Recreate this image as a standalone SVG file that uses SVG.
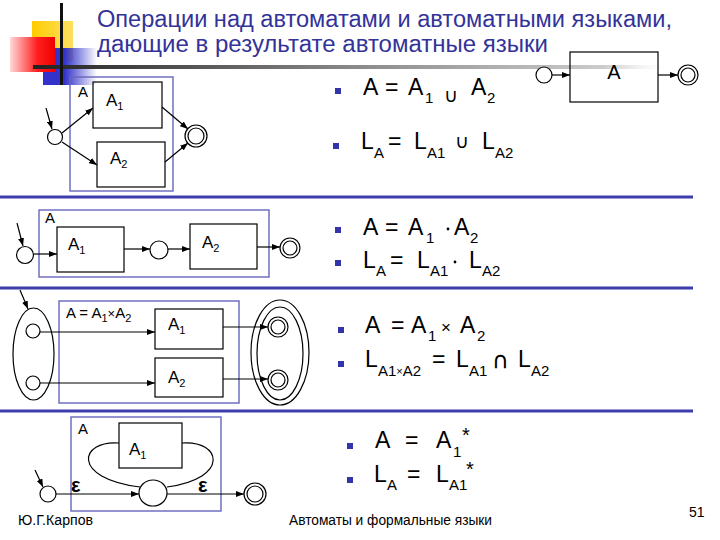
<svg xmlns="http://www.w3.org/2000/svg" width="720" height="540" viewBox="0 0 720 540">
<style>
.t{font-family:"Liberation Sans","DejaVu Sans",sans-serif;fill:#000}
.title{font-family:"Liberation Sans","DejaVu Sans",sans-serif;fill:#333399;font-size:23px}
.f{font-size:23px}
.s{font-size:15px}
.lb{font-size:17px}
.ls{font-size:11px}
.op{font-family:"DejaVu Sans",sans-serif}
.star{font-size:20px}
.box{fill:none;stroke:#000;stroke-width:1.2}
.abox{fill:none;stroke:#6666bb;stroke-width:1.4}
.st{fill:#fff;stroke:#000;stroke-width:1.2}
.e{fill:none;stroke:#000;stroke-width:1.2}
.sep{stroke:#3c3caa;stroke-width:3}
.bul{fill:#3333aa}
.eps{font-family:"Liberation Sans","DejaVu Sans",sans-serif;font-weight:bold;font-size:20px}
</style>
<defs>
<marker id="ah" markerWidth="8" markerHeight="6" refX="8" refY="3" orient="auto" markerUnits="userSpaceOnUse">
<path d="M0,0 L8,3 L0,6 z" fill="#000"/>
</marker>
<linearGradient id="gRed" x1="0" y1="0" x2="1" y2="0">
<stop offset="0" stop-color="#ffd8d8"/>
<stop offset="0.6" stop-color="#ff2020"/>
<stop offset="1" stop-color="#ee0000"/>
</linearGradient>
<linearGradient id="gBlue" x1="0" y1="0" x2="1" y2="0">
<stop offset="0" stop-color="#3333cc"/>
<stop offset="0.4" stop-color="#3333cc"/>
<stop offset="1" stop-color="#3333cc" stop-opacity="0"/>
</linearGradient>
<linearGradient id="gYel" x1="0" y1="0" x2="1" y2="0">
<stop offset="0" stop-color="#ffcc00"/>
<stop offset="1" stop-color="#ffe060"/>
</linearGradient>
<linearGradient id="gLine" x1="0" y1="0" x2="1" y2="0">
<stop offset="0" stop-color="#222"/>
<stop offset="0.5" stop-color="#888"/>
<stop offset="0.9" stop-color="#ccc"/>
<stop offset="1" stop-color="#eee" stop-opacity="0"/>
</linearGradient>
</defs>

<g id="decor">
<rect x="32" y="21" width="41" height="40" fill="url(#gYel)"/>
<rect x="43" y="48" width="54" height="37" fill="url(#gBlue)"/>
<rect x="10" y="37" width="45" height="35" fill="url(#gRed)"/>
<rect x="33" y="65" width="634" height="4" fill="url(#gLine)"/>
<rect x="60" y="3" width="3" height="82" fill="#111"/>
</g>

<g id="title">
<text class="title" x="97" y="27" textLength="575" lengthAdjust="spacingAndGlyphs">Операции над автоматами и автоматными языками,</text>
<text class="title" x="97" y="52" textLength="451" lengthAdjust="spacingAndGlyphs">дающие в результате автоматные языки</text>
</g>

<g id="separators">
<line class="sep" x1="0" y1="197" x2="693" y2="197"/>
<line class="sep" x1="0" y1="288" x2="693" y2="288"/>
<line class="sep" x1="0" y1="411" x2="693" y2="411"/>
</g>

<!-- top-right automaton A -->
<g id="autoA">
<circle class="st" cx="544" cy="75" r="8"/>
<rect class="box" x="570" y="52" width="88" height="50"/>
<text class="t" x="614" y="79" font-size="20" text-anchor="middle">A</text>
<circle class="st" cx="688" cy="75" r="10"/>
<circle class="st" cx="688" cy="75" r="7"/>
</g>

<!-- section 1: union -->
<g id="union">
<rect class="abox" x="70" y="77" width="103" height="114"/>
<text class="t s" x="78" y="97">A</text>
<rect class="box" x="93" y="82" width="69" height="46"/>
<text class="t lb" x="106" y="106">A<tspan class="ls" dy="4">1</tspan></text>
<rect class="box" x="97" y="142" width="68" height="45"/>
<text class="t lb" x="110" y="164">A<tspan class="ls" dy="4">2</tspan></text>
<circle class="st" cx="55" cy="137" r="7.5"/>
<circle class="st" cx="196" cy="136" r="11"/>
<circle class="st" cx="196" cy="136" r="8"/>
</g>

<!-- section 2: concatenation -->
<g id="concat">
<rect class="abox" x="39" y="210" width="230" height="67"/>
<text class="t s" x="45" y="223">A</text>
<rect class="box" x="57" y="227" width="67" height="45"/>
<text class="t lb" x="68" y="250">A<tspan class="ls" dy="4">1</tspan></text>
<rect class="box" x="190" y="224" width="67" height="45"/>
<text class="t lb" x="202" y="248">A<tspan class="ls" dy="4">2</tspan></text>
<circle class="st" cx="25" cy="255" r="8.5"/>
<circle class="st" cx="159" cy="250" r="9"/>
<circle class="st" cx="290" cy="248" r="10"/>
<circle class="st" cx="290" cy="248" r="7"/>
</g>

<!-- section 3: product -->
<g id="product">
<rect class="abox" x="59" y="301" width="180" height="102"/>
<text class="t s" x="66" y="318">A = A<tspan class="ls" dy="4">1</tspan><tspan dy="-4" font-size="13">×</tspan>A<tspan class="ls" dy="4">2</tspan></text>
<rect class="box" x="155" y="309" width="68" height="40"/>
<text class="t lb" x="168" y="330">A<tspan class="ls" dy="4">1</tspan></text>
<rect class="box" x="155" y="358" width="68" height="39"/>
<text class="t lb" x="168" y="383">A<tspan class="ls" dy="4">2</tspan></text>
<ellipse class="e" cx="33.5" cy="354" rx="20.5" ry="46"/>
<circle class="st" cx="33" cy="331" r="7"/>
<circle class="st" cx="33" cy="383" r="7"/>
<ellipse class="e" cx="280" cy="352.5" rx="29" ry="52.5"/>
<ellipse class="e" cx="280" cy="353.5" rx="23" ry="46.5"/>
<circle class="st" cx="278" cy="327" r="10"/>
<circle class="st" cx="278" cy="327" r="7"/>
<circle class="st" cx="278" cy="380" r="10"/>
<circle class="st" cx="278" cy="380" r="7"/>
</g>

<!-- section 4: iteration -->
<g id="star">
<rect class="abox" x="71" y="417" width="150" height="94"/>
<text class="t s" x="78" y="434">A</text>
<rect class="box" x="119" y="423" width="63" height="45"/>
<text class="t lb" x="129" y="455">A<tspan class="ls" dy="4">1</tspan></text>
<circle class="st" cx="48" cy="494" r="8"/>
<ellipse class="st" cx="153" cy="493" rx="14" ry="13"/>
<circle class="st" cx="255" cy="494" r="11"/>
<circle class="st" cx="255" cy="494" r="8"/>
<text class="eps" x="71" y="492">ε</text>
<text class="eps" x="198" y="492">ε</text>
</g>

<g id="connectors" fill="none" stroke="#000" stroke-width="1.2">
<line x1="552" y1="75" x2="570" y2="75" marker-end="url(#ah)"/>
<line x1="658" y1="75" x2="678" y2="75" marker-end="url(#ah)"/>

<line x1="46" y1="108" x2="52" y2="129" marker-end="url(#ah)"/>
<line x1="62" y1="133" x2="93" y2="108" marker-end="url(#ah)"/>
<line x1="62" y1="142" x2="97" y2="165" marker-end="url(#ah)"/>
<line x1="162" y1="107" x2="188" y2="129" marker-end="url(#ah)"/>
<line x1="165" y1="162" x2="188" y2="143" marker-end="url(#ah)"/>

<line x1="17" y1="223" x2="23" y2="246" marker-end="url(#ah)"/>
<line x1="34" y1="254" x2="57" y2="254" marker-end="url(#ah)"/>
<line x1="124" y1="249" x2="150" y2="249" marker-end="url(#ah)"/>
<line x1="168" y1="249" x2="190" y2="249" marker-end="url(#ah)"/>
<line x1="257" y1="247" x2="280" y2="247" marker-end="url(#ah)"/>

<line x1="20" y1="290" x2="28" y2="309" marker-end="url(#ah)"/>
<line x1="40" y1="332" x2="155" y2="332" marker-end="url(#ah)"/>
<line x1="40" y1="383" x2="155" y2="383" marker-end="url(#ah)"/>
<line x1="223" y1="327" x2="268" y2="327" marker-end="url(#ah)"/>
<line x1="223" y1="379" x2="268" y2="379" marker-end="url(#ah)"/>

<line x1="35" y1="470" x2="43" y2="487" marker-end="url(#ah)"/>
<line x1="56" y1="494" x2="139" y2="494" marker-end="url(#ah)"/>
<line x1="167" y1="494" x2="244" y2="494" marker-end="url(#ah)"/>
<path d="M140,487 C70,478 80,440 119,443"/>
<path d="M182,443 C221,440 231,478 167,487"/>
</g>

<g id="formulas" class="t">
<rect class="bul" x="335" y="88" width="6" height="6"/>
<text class="f" x="363" y="95">A</text>
<text class="f" x="385" y="95">=</text>
<text class="f" x="408" y="95">A</text>
<text class="s" x="425" y="103">1</text>
<text class="op" font-size="19" x="444" y="102">∪</text>
<text class="f" x="471" y="95">A</text>
<text class="s" x="487" y="103">2</text>

<rect class="bul" x="333" y="143" width="6" height="6"/>
<text class="f" x="361" y="149">L</text>
<text class="s" x="374" y="158">A</text>
<text class="f" x="388" y="149">=</text>
<text class="f" x="414" y="149">L</text>
<text class="s" x="427" y="158">A1</text>
<text class="op" font-size="19" x="455" y="148">∪</text>
<text class="f" x="482" y="149">L</text>
<text class="s" x="495" y="158">A2</text>

<rect class="bul" x="335" y="227" width="6" height="6"/>
<text class="f" x="363" y="235">A</text>
<text class="f" x="385" y="235">=</text>
<text class="f" x="408" y="235">A</text>
<text class="s" x="426" y="243">1</text>
<circle cx="448" cy="229" r="1.4" fill="#000"/>
<text class="f" x="454" y="235">A</text>
<text class="s" x="470" y="243">2</text>

<rect class="bul" x="335" y="260" width="6" height="6"/>
<text class="f" x="363" y="268">L</text>
<text class="s" x="376" y="276">A</text>
<text class="f" x="390" y="268">=</text>
<text class="f" x="417" y="268">L</text>
<text class="s" x="430" y="276">A1</text>
<circle cx="455" cy="262" r="1.4" fill="#000"/>
<text class="f" x="469" y="268">L</text>
<text class="s" x="482" y="276">A2</text>

<rect class="bul" x="338" y="327" width="6" height="6"/>
<text class="f" x="365" y="333">A</text>
<text class="f" x="391" y="333">=</text>
<text class="f" x="411" y="333">A</text>
<text class="s" x="428" y="341">1</text>
<text font-size="17" x="441" y="333">×</text>
<text class="f" x="460" y="333">A</text>
<text class="s" x="477" y="341">2</text>

<rect class="bul" x="338" y="361" width="6" height="6"/>
<text class="f" x="365" y="367">L</text>
<text class="s" x="378" y="376">A1<tspan font-size="11" dy="-1">×</tspan><tspan dy="1">A2</tspan></text>
<text class="f" x="432" y="367">=</text>
<text class="f" x="456" y="367">L</text>
<text class="s" x="469" y="376">A1</text>
<text class="op" font-size="23" x="492" y="368">∩</text>
<text class="f" x="518" y="367">L</text>
<text class="s" x="531" y="376">A2</text>

<rect class="bul" x="347" y="443" width="6" height="6"/>
<text class="f" x="375" y="448">A</text>
<text class="f" x="405" y="448">=</text>
<text class="f" x="436" y="448">A</text>
<text class="s" x="453" y="457">1</text>
<text class="star" x="462" y="442">*</text>

<rect class="bul" x="347" y="477" width="6" height="6"/>
<text class="f" x="374" y="482">L</text>
<text class="s" x="387" y="490">A</text>
<text class="f" x="407" y="482">=</text>
<text class="f" x="436" y="482">L</text>
<text class="s" x="449" y="490">A1</text>
<text class="star" x="466" y="476">*</text>
</g>

<g id="footer" class="t">
<text font-size="14" x="18" y="525" textLength="75" lengthAdjust="spacingAndGlyphs">Ю.Г.Карпов</text>
<text font-size="14" x="289" y="525" textLength="203" lengthAdjust="spacingAndGlyphs">Автоматы и формальные языки</text>
<text font-size="14" x="689" y="517">51</text>
</g>
</svg>
